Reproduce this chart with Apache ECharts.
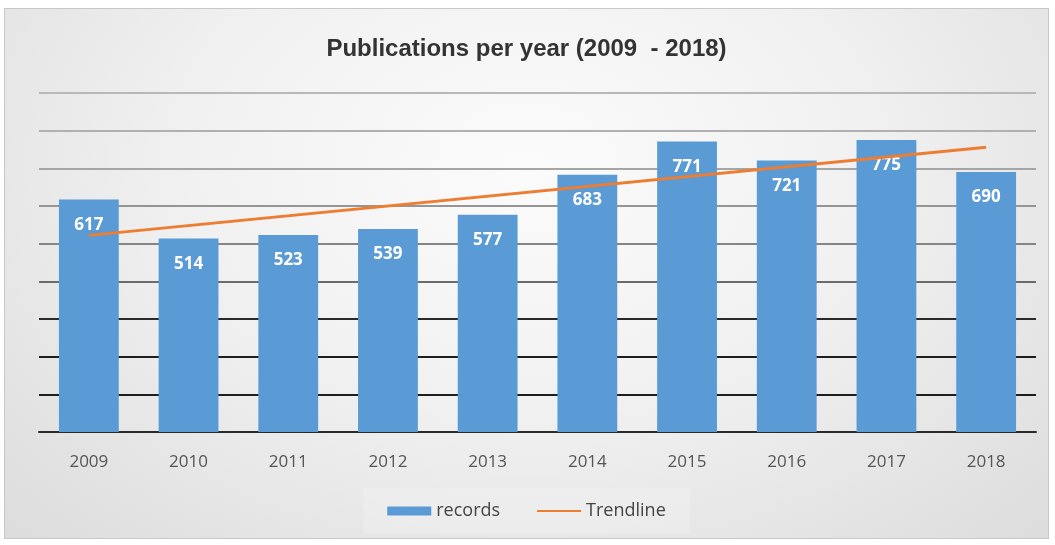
<!DOCTYPE html>
<html>
<head>
<meta charset="utf-8">
<script src="https://cdn.jsdelivr.net/npm/echarts@6/dist/echarts.min.js"></script>
<style>
  html, body { margin: 0; padding: 0; background: #fff; }
  #wrap {
    position: absolute; left: 4px; top: 8px; width: 1043px; height: 529px;
    border: 1px solid #c8c8c8;
    background: radial-gradient(ellipse at 50% 30%, #fbfbfb 0%, #f1f1f1 45%, #dcdcdc 100%);
  }
  #chart { width: 1043px; height: 529px; }
</style>
</head>
<body>
<div id="wrap"><div id="chart"></div></div>
<script>
// data
const years = ['2009', '2010', '2011', '2012', '2013', '2014', '2015', '2016', '2017', '2018']
const records = [617, 514, 523, 539, 577, 683, 771, 721, 775, 690]
// trendline ends (2009 and 2018), joined straight across
const trend = [522, null, null, null, null, null, null, null, null, 756]

const gridColors = ['#2a2a2a', '#1e1e1e', '#1e1e1e', '#2a2a2a', '#6b6b6b', '#858585', '#959595', '#a5a5a5', '#b0b0b0', '#b8b8b8']
const font = '"Open Sans", "DejaVu Sans", sans-serif'

const option = {
  animation: false,
  title: {
    text: 'Publications per year (2009  - 2018)',
    left: 'center',
    top: 23,
    textStyle: {
      fontFamily: '"Liberation Sans Narrow", "Liberation Sans", Arial, sans-serif',
      fontSize: 24,
      fontWeight: 'bold',
      color: '#333',
    },
  },
  grid: { left: 34, right: 12, top: 84, bottom: 106 },
  legend: {
    bottom: 4,
    left: 'center',
    itemWidth: 44,
    itemHeight: 9,
    itemGap: 36,
    padding: [14, 24],
    backgroundColor: 'rgba(255,255,255,0.18)',
    textStyle: { fontFamily: font, fontSize: 18, color: '#444' },
    data: [
      { name: 'records', icon: 'rect' },
      { name: 'Trendline', itemStyle: { opacity: 0 } },
    ],
  },
  xAxis: {
    type: 'category',
    data: years,
    axisTick: { show: false },
    axisLine: { lineStyle: { color: '#2a2a2a', width: 2 } },
    axisLabel: {
      margin: 22,
      fontFamily: font,
      fontSize: 17,
      color: '#555',
    },
  },
  yAxis: {
    type: 'value',
    min: 0,
    max: 900,
    interval: 100,
    axisLabel: { show: false },
    axisLine: { show: false },
    axisTick: { show: false },
    splitLine: { lineStyle: { color: gridColors, width: 2 } },
  },
  series: [
    {
      name: 'records',
      type: 'bar',
      data: records,
      barWidth: '60%',
      itemStyle: { color: '#5b9bd5' },
      label: {
        show: true,
        position: 'insideTop',
        distance: 17,
        color: '#fff',
        fontWeight: 'bold',
        fontSize: 17,
        fontFamily: font,
      },
    },
    {
      name: 'Trendline',
      type: 'line',
      data: trend,
      connectNulls: true,
      symbol: 'none',
      lineStyle: { color: '#ed7d31', width: 3 },
      itemStyle: { color: '#ed7d31' },
      z: 5,
    },
  ],
}

const c = echarts.init(document.getElementById('chart'))
c.setOption(option)
</script>
</body>
</html>
